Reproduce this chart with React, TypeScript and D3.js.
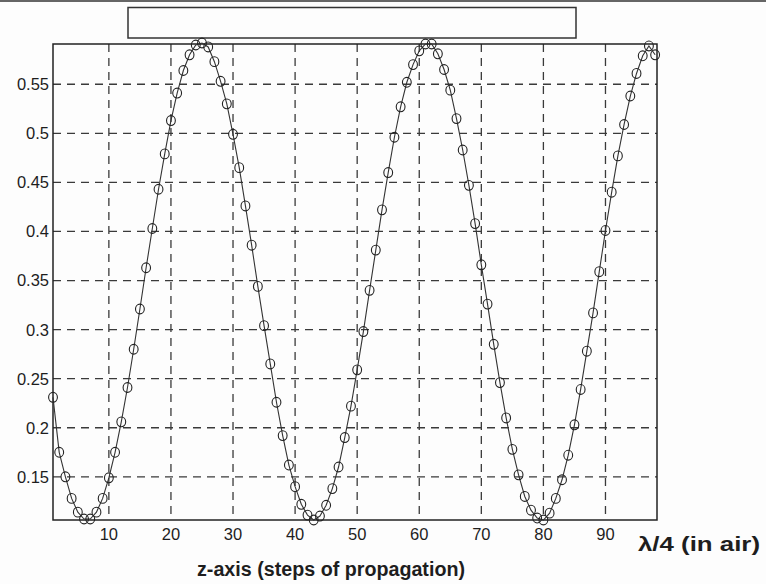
import React from "react";
import * as d3 from "d3";

const steps: number[] = Array.from({ length: 98 }, (_, i) => i + 1);
const power: number[] = [
  0.231, 0.175, 0.150, 0.128, 0.114, 0.107, 0.107, 0.114, 0.128, 0.149,
  0.175, 0.206, 0.241, 0.280, 0.321, 0.363, 0.403, 0.443, 0.479, 0.513,
  0.541, 0.564, 0.580, 0.590, 0.592, 0.588, 0.573, 0.553, 0.530, 0.499,
  0.465, 0.426, 0.386, 0.344, 0.304, 0.265, 0.226, 0.192, 0.162, 0.140,
  0.122, 0.111, 0.106, 0.110, 0.121, 0.138, 0.160, 0.190, 0.222, 0.259,
  0.298, 0.340, 0.381, 0.422, 0.460, 0.496, 0.527, 0.552, 0.570, 0.584,
  0.591, 0.591, 0.581, 0.565, 0.544, 0.515, 0.483, 0.447, 0.408, 0.366,
  0.326, 0.285, 0.246, 0.210, 0.178, 0.152, 0.130, 0.116, 0.108, 0.106,
  0.113, 0.128, 0.147, 0.172, 0.203, 0.239, 0.278, 0.317, 0.359, 0.401,
  0.440, 0.477, 0.509, 0.538, 0.561, 0.579, 0.589, 0.580,
];
const xTicks: number[] = [10, 20, 30, 40, 50, 60, 70, 80, 90];
const yTicks: number[] = [0.15, 0.2, 0.25, 0.3, 0.35, 0.4, 0.45, 0.5, 0.55];
const yTickLabels: string[] = ["0.15", "0.2", "0.25", "0.3", "0.35", "0.4", "0.45", "0.5", "0.55"];
const xLabel = "z-axis (steps of propagation)";
const sideLabel = "λ/4 (in air)";

export default function App() {
  const W = 766, H = 584;
  const L = 53, R = 657, T = 44, B = 520;
  const x = d3.scaleLinear().domain([1, 98.3]).range([L, R]);
  const y = d3.scaleLinear().domain([0.106, 0.591]).range([B, T]);
  const pts = steps.map((s, i) => [s, power[i]] as [number, number]);
  const line = d3.line<[number, number]>().x((d) => x(d[0])).y((d) => y(d[1]));
  const font = "'Liberation Sans', Arial, Helvetica, sans-serif";
  const ink = "#1e1e1e";
  return (
    <svg width={W} height={H} style={{ position: "fixed", left: 0, top: 0, background: "#fff" }}>
      <rect x={0} y={0} width={W} height={H} fill="#fdfdfd" />
      <rect x={0} y={0} width={W} height={2} fill="#666" />
      <rect x={128} y={7.5} width={448} height={30.5} fill="none" stroke="#333" strokeWidth={1.5} />
      {xTicks.map((t) => (
        <line key={"gx" + t} x1={x(t)} x2={x(t)} y1={T} y2={B} stroke="#3a3a3a" strokeWidth={1.3} strokeDasharray="8,6" />
      ))}
      {yTicks.map((t) => (
        <line key={"gy" + t} x1={L} x2={R} y1={y(t)} y2={y(t)} stroke="#3a3a3a" strokeWidth={1.3} strokeDasharray="8,6" />
      ))}
      <rect x={L} y={T} width={R - L} height={B - T} fill="none" stroke="#222" strokeWidth={1.5} />
      {yTicks.map((t, i) => (
        <text key={"ty" + t} x={L - 4} y={y(t)} dy="0.36em" textAnchor="end" fontFamily={font} fontSize={16.5} fill={ink}>
          {yTickLabels[i]}
        </text>
      ))}
      {xTicks.map((t) => (
        <text key={"tx" + t} x={x(t)} y={540} textAnchor="middle" fontFamily={font} fontSize={16.5} fill={ink}>
          {t}
        </text>
      ))}
      <path d={line(pts) || ""} fill="none" stroke="#333" strokeWidth={1.1} />
      {pts.map((d, i) => (
        <ellipse key={"c" + i} cx={x(d[0])} cy={y(d[1])} rx={4.4} ry={4.9} fill="none" stroke="#222" strokeWidth={1.1} />
      ))}
      <text x={331} y={576} textAnchor="middle" fontFamily={font} fontSize={20} fontWeight="bold" fill={ink} textLength={268} lengthAdjust="spacingAndGlyphs">
        {xLabel}
      </text>
      <text x={638} y={551} fontFamily={font} fontSize={21} fontWeight="bold" fill={ink} textLength={122} lengthAdjust="spacingAndGlyphs">
        {sideLabel}
      </text>
    </svg>
  );
}
